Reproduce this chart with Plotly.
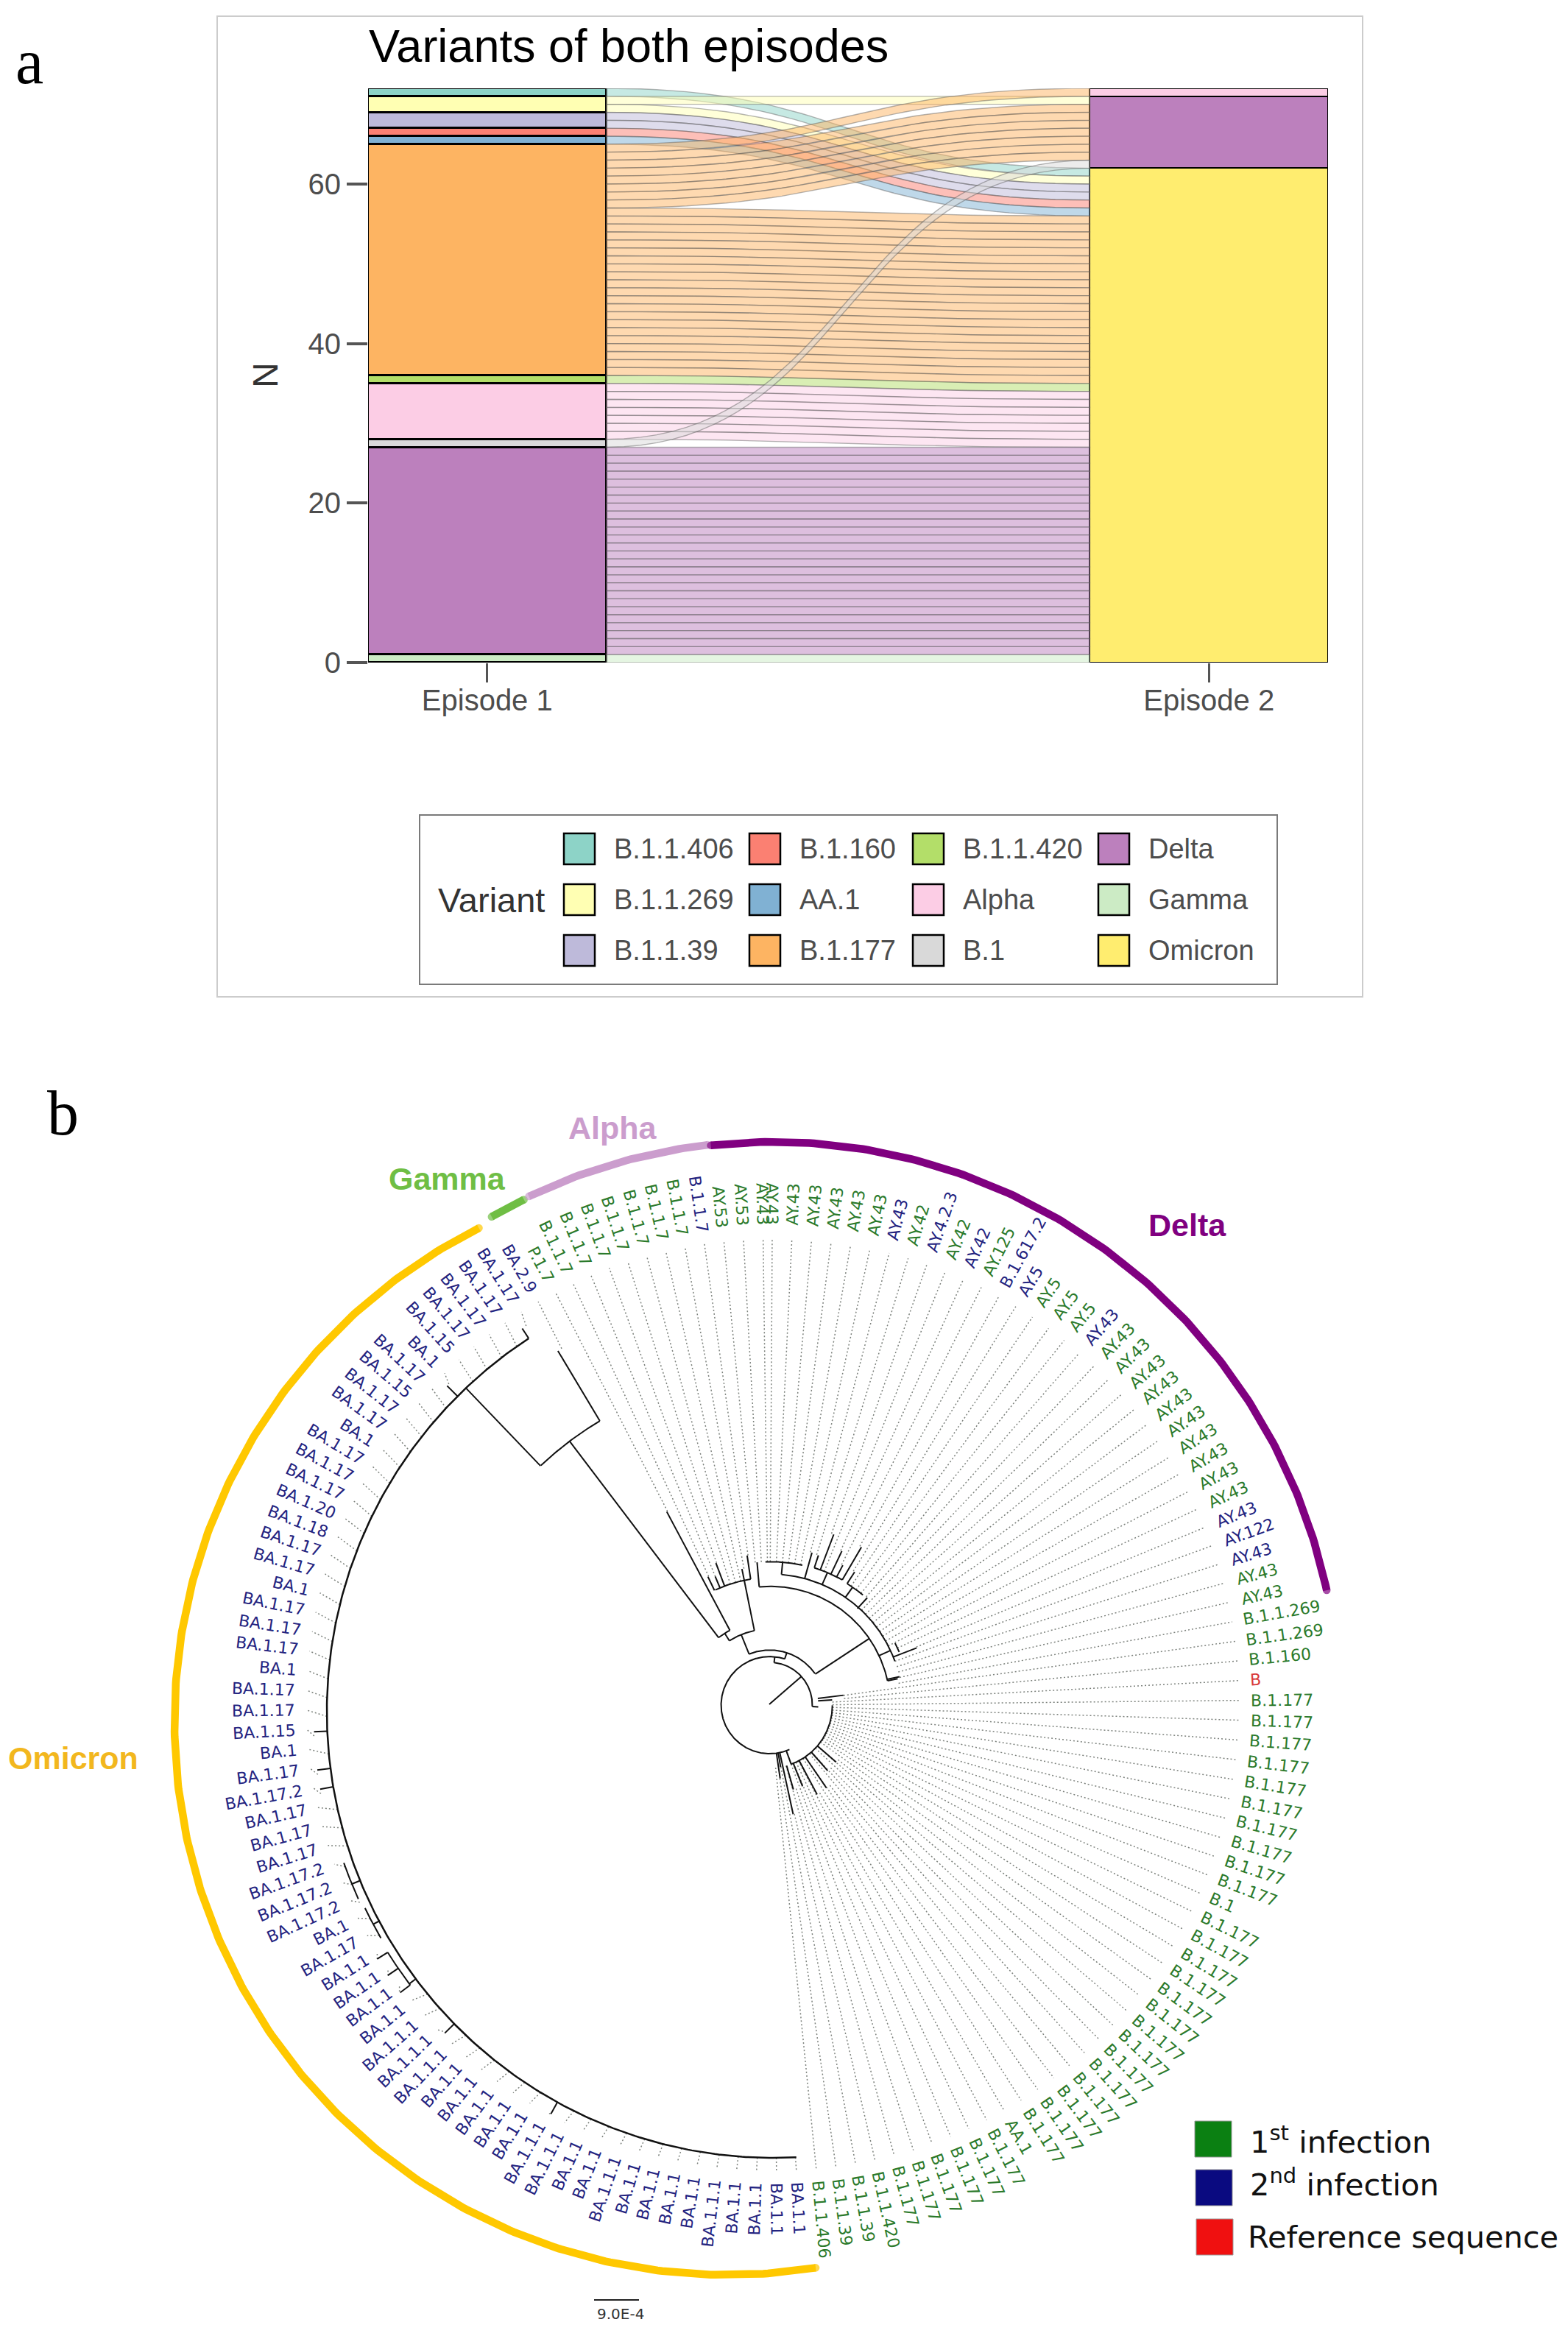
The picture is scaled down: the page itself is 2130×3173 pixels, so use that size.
import math
import plotly.graph_objects as go

# ---------- panel a data ----------
ep1_variants = ["Gamma", "Delta", "B.1", "Alpha", "B.1.1.420", "B.1.177", "AA.1", "B.1.160", "B.1.1.39", "B.1.1.269", "B.1.1.406"]
ep1_counts = [1, 26, 1, 7, 1, 29, 1, 1, 2, 2, 1]
ep2_variants = ["Omicron", "Delta", "Alpha"]
ep2_counts = [62, 9, 1]
variant_colors = {
    "B.1.1.406": "#8DD3C7", "B.1.1.269": "#FFFFB3", "B.1.1.39": "#BEBADA", "B.1.160": "#FB8072",
    "AA.1": "#80B1D3", "B.1.177": "#FDB462", "B.1.1.420": "#B3DE69", "Alpha": "#FCCDE5",
    "B.1": "#D9D9D9", "Delta": "#BC80BD", "Gamma": "#CCEBC5", "Omicron": "#FFED6F",
}
legend_columns = [["B.1.1.406", "B.1.1.269", "B.1.1.39"], ["B.1.160", "AA.1", "B.1.177"],
                  ["B.1.1.420", "Alpha", "B.1"], ["Delta", "Gamma", "Omicron"]]
episode_labels = ["Episode 1", "Episode 2"]
y_ticks = [0, 20, 40, 60]
# Each entry = row of the first-episode stack (0 is the top) that lands on this row of the second-episode stack
right_stack_rows = [7, 1] + list(range(8, 15)) + [44, 0, 2, 3, 4, 5, 6] + list(range(15, 44)) + list(range(45, 72))

# ---------- panel b data (clockwise from the upper left) ----------
tip_names = (["BA.2.9", "P.1.7"] + ["B.1.1.7"] * 8 + ["AY.53"] * 2 + ["AY.43"] * 8 +
             ["AY.42", "AY.4.2.3", "AY.42", "AY.42", "AY.125", "B.1.617.2"] + ["AY.5"] * 4 +
             ["AY.43"] * 12 + ["AY.122"] + ["AY.43"] * 3 + ["B.1.1.269"] * 2 + ["B.1.160", "B"] +
             ["B.1.177"] * 10 + ["B.1"] + ["B.1.177"] * 14 + ["AA.1"] + ["B.1.177"] * 6 +
             ["B.1.1.420", "B.1.1.39", "B.1.1.39", "B.1.1.406"] +
             ["BA.1.1"] * 4 + ["BA.1.1.1"] + ["BA.1.1"] * 4 + ["BA.1.1.1"] + ["BA.1.1"] * 2 + ["BA.1.1.1"] * 2 +
             ["BA.1.1"] * 5 + ["BA.1.1.1"] * 3 + ["BA.1.1"] * 4 +
             ["BA.1.17", "BA.1", "BA.1.17.2", "BA.1.17.2", "BA.1.17.2", "BA.1.17", "BA.1.17", "BA.1.17", "BA.1.17.2",
              "BA.1.17", "BA.1", "BA.1.15", "BA.1.17", "BA.1.17", "BA.1", "BA.1.17", "BA.1.17", "BA.1.17", "BA.1",
              "BA.1.17", "BA.1.17", "BA.1.18", "BA.1.20", "BA.1.17", "BA.1.17", "BA.1.17", "BA.1", "BA.1.17", "BA.1.17",
              "BA.1.15", "BA.1.17", "BA.1", "BA.1.15", "BA.1.17", "BA.1.17", "BA.1.17", "BA.1.17"])
second_infection_tips = {0, 9, 19, 21, 23, 25, 26, 30, 41, 42, 43} | set(range(86, 149))
reference_tip = 49
# Angle corrections: tip index -> degrees
angle_anchor_tips = [0, 12, 13, 49, 85, 100, 149]
angle_anchor_shift = [0, 0, -1.3, -1.2, -0.5, 0, 0]
tip_solid_end = ([570, 302, 196, 192, 209, 175, 175, 175, 191, 208] + [197] * 9 +
                 [217, 216, 250, 198, 233, 216, 250, 216, 197, 197, 197, 198] + [180] * 9 +
                 [190, 214, 180, 180, 180, 180, 177, 101, 101, 85] + [85] * 16 +
                 [118, 85, 85, 118, 85, 85, 135, 85, 85, 136, 85, 85, 85, 85, 118, 85, 150, 85, 100, 85] + [606] * 63)
ba_tip_ends = {99: 624, 106: 624, 109: 634, 110: 634, 111: 634, 112: 615, 113: 615, 114: 618, 115: 618,
               116: 618, 120: 624, 121: 624, 123: 624, 143: 626, 148: 622}
# Tree branches: arcs are (radius, from angle, to angle); radials are (angle, from radius, to radius)
tree_arcs = [(58, 6, 92), (66, 156, 378), (85, 90, 160), (75, -22, 55), (104, -32, -11.7), (116, -37, -28),
             (457, -43.4, -30.8), (175, -25.3, -8.8), (163, -5.3, 77.7), (180, 4.8, 70), (197, -2, 12.7),
             (198, 17.5, 29.5), (197, 31.9, 39.6), (190, 63, 67), (617, 233, 238), (615, 240, 244.3),
             (618, 245.7, 250.6)]
tree_radials = [(48, 0, 58), (6, 58, 66), (18, 66, 75), (160, 66, 85), (92, 58, 66), (82, 66, 101), (85, 66, 85),
                (55.6, 75, 163), (-22, 75, 104), (-32, 104, 116), (-37, 116, 457), (-28, 116, 302),
                (-30.8, 457, 570), (-43.5, 457, 606), (-11.7, 104, 191), (-25.7, 175, 196), (-23, 175, 192),
                (-20.8, 175, 209), (-8.8, 175, 208), (-5.3, 163, 197), (4.8, 180, 197), (65, 163, 180),
                (15, 180, 217), (23, 180, 198), (17.5, 198, 216), (20, 198, 250), (24.5, 198, 233), (27, 198, 216),
                (29.5, 198, 250), (34.5, 180, 197), (31.9, 197, 216), (41.6, 178, 198), (68, 180, 214),
                (77, 163, 180), (77.7, 163, 177), (164.4, 85, 118), (158, 85, 118), (152, 85, 136), (145.5, 85, 135),
                (138.4, 85, 118), (130.4, 85, 118), (168, 66, 150), (172, 66, 100), (170, 66, 85),
                (208.9, 606, 624), (225.6, 606, 624), (267.5, 606, 624), (262.7, 606, 624), (260.3, 606, 624),
                (315, 606, 626), (326.8, 606, 622), (233.2, 606, 617), (233, 617, 634), (235.6, 617, 634),
                (238, 617, 634), (242, 606, 615), (247.75, 606, 618)]
clade_main_arc = (606, 177, 326.8)
# Clade arcs: name, colour, text colour, centre x, centre y, radius, from angle, to angle, label x, label y
clade_arcs = [("Omicron", "#FFC800", "#F2B71E", 988, 2339, 751, 170.8, 333.3, 99, 2388),
              ("Gamma", "#6FBE44", "#6FBE44", 1050, 2320, 769, -29.8, -26.1, 607, 1601),
              ("Alpha", "#CB9DCD", "#CB9DCD", 1050, 2320, 770, -25.5, -6.6, 832, 1532),
              ("Delta", "#800080", "#800080", 1050, 2320, 769, -6.3, 78, 1613, 1664)]
infection_legend = [("1<sup>st</sup> infection", "#0B8012"), ("2<sup>nd</sup> infection", "#0A0A80"),
                    ("Reference sequence", "#F01010")]
SANS = "Liberation Sans, Arial, sans-serif"
DEJA = "DejaVu Sans, Verdana, sans-serif"
W, H = 2130, 3173
fig = go.Figure()

# ---------- alluvial ----------
BAR_HALF = 0.165
for name, count in zip(ep1_variants, ep1_counts):
    fig.add_trace(go.Bar(x=[1], y=[count], width=2 * BAR_HALF, marker=dict(color=variant_colors[name], line=dict(color="black", width=3)),
                         showlegend=False, cliponaxis=False, name=name))
for name, count in zip(ep2_variants, ep2_counts):
    fig.add_trace(go.Bar(x=[2], y=[count], width=2 * BAR_HALF, marker=dict(color=variant_colors[name], line=dict(color="black", width=2.5)),
                         showlegend=False, cliponaxis=False, name=name))

left_rows = []
for name, count in zip(ep1_variants[::-1], ep1_counts[::-1]):
    left_rows += [name] * count


def rgba(hexcol, a):
    return "rgba(%d,%d,%d,%.2f)" % (int(hexcol[1:3], 16), int(hexcol[3:5], 16), int(hexcol[5:7], 16), a)


def sweep(y0, y1):
    x0, x1 = 1 + BAR_HALF, 2 - BAR_HALF
    xs, ys = [], []
    for k in range(41):
        t = k / 40
        b1 = 3 * (1 - t) ** 2 * t
        b2 = 3 * (1 - t) * t ** 2
        b3 = t ** 3
        xs.append(x0 + (x1 - x0) * (0.5 * b1 + 0.5 * b2 + b3))
        ys.append(y0 + (y1 - y0) * (b2 + b3))
    return xs, ys


total = sum(ep1_counts)
target_row = {left: right for right, left in enumerate(right_stack_rows)}
for row, name in enumerate(left_rows):
    right = target_row[row]
    xa, ya = sweep(total - row, total - right)
    xb, yb = sweep(total - row - 1, total - right - 1)
    fig.add_trace(go.Scatter(x=xa + xb[::-1] + [xa[0]], y=ya + yb[::-1] + [ya[0]], mode="lines", fill="toself",
                             fillcolor=rgba(variant_colors[name], 0.5), line=dict(color="rgba(90,90,90,0.45)", width=1.4),
                             hoverinfo="skip", showlegend=False))

# ---------- tree ----------
N_TIPS = len(tip_names)
TX, TY = 1045, 2315


def tip_angle(i):
    shift = 0
    for j in range(len(angle_anchor_tips) - 1):
        i0, i1 = angle_anchor_tips[j], angle_anchor_tips[j + 1]
        if i0 <= i <= i1:
            shift = angle_anchor_shift[j] + (angle_anchor_shift[j + 1] - angle_anchor_shift[j]) * (i - i0) / (i1 - i0)
            break
    return (i - 12.5) * 360 / N_TIPS + shift


def tree_pt(theta, r):
    t = min(r / 600, 1)
    a = math.radians(theta)
    return TX + 5 * t + r * math.sin(a), TY + 10 * t - r * math.cos(a)


def arc_pts(cx, cy, r, a0, a1):
    n = max(2, int(abs(a1 - a0) * 2) + 1)
    pts = []
    for k in range(n + 1):
        a = math.radians(a0 + (a1 - a0) * k / n)
        pts.append((cx + r * math.sin(a), cy - r * math.cos(a)))
    return pts


LX, LY, LR, DOT_R = 1050, 2316, 649, 634
dx, dy = [], []
for i in range(N_TIPS):
    r0 = ba_tip_ends.get(i, tip_solid_end[i])
    a = tip_angle(i)
    p = tree_pt(a, r0)
    ar = math.radians(a)
    dx += [p[0], LX + DOT_R * math.sin(ar), None]
    dy += [p[1], LY - DOT_R * math.cos(ar), None]
fig.add_trace(go.Scatter(x=dx, y=dy, xaxis="x2", yaxis="y2", mode="lines", showlegend=False, hoverinfo="skip",
                         line=dict(color="#7d827d", width=1.5, dash="2px,3px")))
sx, sy = [], []
for r, a0, a1 in tree_arcs:
    n = max(2, int(abs(a1 - a0) * 2))
    for k in range(n + 1):
        p = tree_pt(a0 + (a1 - a0) * k / n, r)
        sx.append(p[0]); sy.append(p[1])
    sx.append(None); sy.append(None)
for a, r0, r1 in tree_radials:
    p0, p1 = tree_pt(a, r0), tree_pt(a, r1)
    sx += [p0[0], p1[0], None]
    sy += [p0[1], p1[1], None]
fig.add_trace(go.Scatter(x=sx, y=sy, xaxis="x2", yaxis="y2", mode="lines", showlegend=False, hoverinfo="skip",
                         line=dict(color="#111111", width=2)))
r, a0, a1 = clade_main_arc
pts = [tree_pt(a0 + (a1 - a0) * k / 300, r) for k in range(301)]
fig.add_trace(go.Scatter(x=[p[0] for p in pts], y=[p[1] for p in pts], xaxis="x2", yaxis="y2", mode="lines",
                         showlegend=False, hoverinfo="skip", line=dict(color="#111111", width=2.5)))
for name, col, tcol, cx, cy, rr, a0, a1, tx, ty in clade_arcs:
    pts = arc_pts(cx, cy, rr, a0, a1)
    fig.add_trace(go.Scatter(x=[p[0] for p in pts], y=[p[1] for p in pts], xaxis="x2", yaxis="y2", mode="lines+markers",
                             showlegend=False, hoverinfo="skip", line=dict(color=col, width=10.5),
                             marker=dict(color=col, size=[10.5] + [0] * (len(pts) - 2) + [10.5], line=dict(width=0))))

annotations = []


def note(text, x, y, size, color="black", family=SANS, angle=0, xanchor="center", bold=False):
    if bold:
        text = "<b>%s</b>" % text
    annotations.append(dict(text=text, x=x, y=y, xref="x2", yref="y2", showarrow=False, textangle=angle, xanchor=xanchor,
                            yanchor="middle", font=dict(size=size, color=color, family=family)))


CHAR_W = {"A": .684, "B": .686, "Y": .611, "P": .603, ".": .318}
LABEL_SIZE = 22
for i, name in enumerate(tip_names):
    a = tip_angle(i) % 360
    width = sum(CHAR_W.get(c, .636) for c in name) * LABEL_SIZE
    rc = LR + width / 2
    ar = math.radians(a)
    col = "#D83A3A" if i == reference_tip else ("#23237F" if i in second_infection_tips else "#2B7A2B")
    note(name, LX + rc * math.sin(ar), LY - rc * math.cos(ar), LABEL_SIZE, col, DEJA,
         a - 90 if a < 180 else a - 270)

for name, col, tcol, cx, cy, rr, a0, a1, tx, ty in clade_arcs:
    note(name, tx, ty, 43, tcol, SANS, bold=True)

# ---------- frames, legends, titles ----------
shapes = [dict(type="rect", xref="x2", yref="y2", x0=295, x1=1851, y0=22, y1=1354, line=dict(color="#CCCCCC", width=2), layer="below"),
          dict(type="rect", xref="x2", yref="y2", x0=570, x1=1735, y0=1107, y1=1337, line=dict(color="#7A7A7A", width=2), layer="below")]
col_x = [766, 1018, 1240, 1492]
row_y = [1132, 1201, 1270]
for cx, column in zip(col_x, legend_columns):
    for ry, name in zip(row_y, column):
        shapes.append(dict(type="rect", xref="x2", yref="y2", x0=cx, x1=cx + 42, y0=ry, y1=ry + 42,
                           fillcolor=variant_colors[name], line=dict(color="black", width=2.5)))
        note(name, cx + 66, ry + 21, 38, "#4D4D4D", SANS, xanchor="left")
note("Variant", 593, 1222, 47, "#333333", SANS, xanchor="left")
note("Variants of both episodes", 499, 62, 63, "black", SANS, xanchor="left")
note("N", 360, 510, 48, "#333333", SANS, angle=-90)
note("a", 40, 84, 86, "black", "Liberation Serif, serif")
note("b", 85, 1512, 86, "black", "Liberation Serif, serif")

for (label, col), ry, sx0, ty, tx in zip(infection_legend, [2881, 2947, 3014], [1623, 1624, 1625],
                                         [2907, 2965, 3038], [1696, 1696, 1693]):
    shapes.append(dict(type="rect", xref="x2", yref="y2", x0=sx0, x1=sx0 + 50, y0=ry, y1=ry + 49, fillcolor=col,
                       line=dict(color="#999999", width=1)))
    note(label, tx, ty, 41.5, "#111111", DEJA, xanchor="left")

fig.add_trace(go.Scatter(x=[807, 868], y=[3124, 3124], xaxis="x2", yaxis="y2", mode="lines", showlegend=False,
                         hoverinfo="skip", line=dict(color="#222222", width=2)))
note("9.0E-4", 843, 3143, 20, "#333333", DEJA)

fig.update_layout(
    width=W, height=H, margin=dict(l=0, r=0, t=0, b=0, autoexpand=False), paper_bgcolor="white", plot_bgcolor="rgba(0,0,0,0)",
    barmode="stack", bargap=0, showlegend=False, annotations=annotations, shapes=shapes,
    xaxis=dict(domain=[500 / W, 1804 / W], range=[1 - BAR_HALF, 2 + BAR_HALF], tickmode="array", tickvals=[1, 2],
               ticktext=episode_labels, ticks="outside", ticklen=26, tickwidth=3, tickcolor="#555555", ticklabelstandoff=-10,
               tickfont=dict(family=SANS, size=40, color="#4D4D4D"), showgrid=False, zeroline=False, showline=False,
               anchor="y", automargin=False),
    yaxis=dict(domain=[1 - 900 / H, 1 - 120 / H], range=[0, total], tickmode="array", tickvals=y_ticks, ticks="outside",
               ticklen=28, tickwidth=4, tickcolor="#555555", tickfont=dict(family=SANS, size=40, color="#4D4D4D"),
               showgrid=False, zeroline=False, showline=False, anchor="x", automargin=False),
    xaxis2=dict(domain=[0, 1], range=[0, W], visible=False, fixedrange=True, anchor="y2", automargin=False),
    yaxis2=dict(domain=[0, 1], range=[H, 0], visible=False, fixedrange=True, anchor="x2", automargin=False),
)
fig.write_html("out.html", config=dict(displayModeBar=False),
               post_script="document.body.style.margin='0';document.documentElement.style.overflow='hidden';")
